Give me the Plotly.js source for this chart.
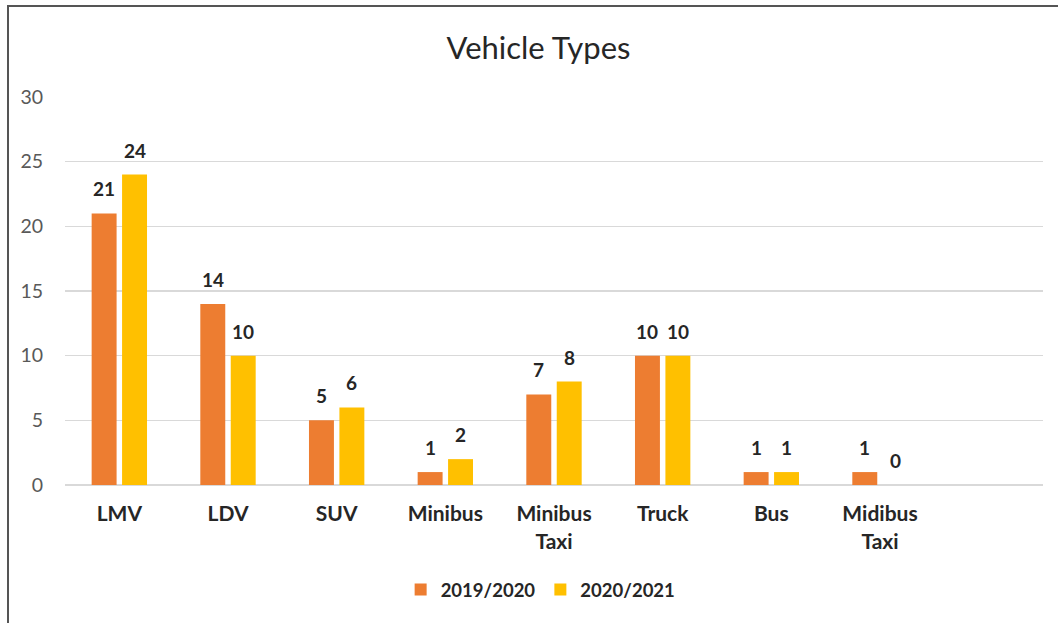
<!DOCTYPE html>
<html>
<head>
<meta charset="utf-8">
<script src="https://cdn.plot.ly/plotly-3.0.1.min.js"></script>
<style>
  html, body { margin: 0; padding: 0; background: #fff; }
  #wrap { position: relative; width: 1058px; height: 623px; }
  #chart { position: absolute; left: 0; top: 0; width: 1058px; height: 623px; }
  #frame { position: absolute; left: 7px; top: 5px; right: -5px; bottom: -5px;
           border-left: 2px solid #555; border-top: 2px solid #555; pointer-events: none; }
</style>
</head>
<body>
<div id="wrap"><div id="chart"></div><div id="frame"></div></div>
<script>
const categories = ["LMV", "LDV", "SUV", "Minibus", "Minibus<br>Taxi", "Truck", "Bus", "Midibus<br>Taxi"];
const series1Name = "2019/2020";
const series1 = [21, 14, 5, 1, 7, 10, 1, 1];
const series2Name = "2020/2021";
const series2 = [24, 10, 6, 2, 8, 10, 1, 0];
const yTicks = [0, 5, 10, 15, 20, 25, 30];

const orange = "#ED7D31";
const yellow = "#FFC000";
const font = "Lato, 'Open Sans', sans-serif";

const traces = [
  { type: "bar", name: series1Name, x: categories, y: series1, marker: { color: orange }, hoverinfo: "y" },
  { type: "bar", name: series2Name, x: categories, y: series2, marker: { color: yellow }, hoverinfo: "y" }
];

const annotations = [];
const groupOffset = 15.3;
[series1, series2].forEach((s, si) => {
  s.forEach((v, i) => {
    annotations.push({
      x: categories[i], y: v, xref: "x", yref: "y",
      text: String(v), showarrow: false,
      xshift: si === 0 ? -groupOffset : groupOffset,
      yanchor: "bottom", yshift: 11,
      font: { family: font, size: 19, color: "#262626", weight: "bold" }
    });
  });
});

const layout = {
  width: 1058, height: 623,
  margin: { l: 65, r: 15, t: 97, b: 138 },
  paper_bgcolor: "#ffffff", plot_bgcolor: "#ffffff",
  barmode: "group", bargap: 0.44, bargroupgap: 0.18,
  title: { text: "Vehicle Types", x: 0.509, xref: "container", xanchor: "center",
           y: 0.923, yref: "container", yanchor: "middle",
           font: { family: font, size: 31, color: "#262626" } },
  xaxis: {
    type: "category", range: [-0.5, 8.5],
    showgrid: false, zeroline: false, showline: false,
    ticks: "outside", ticklen: 10, tickcolor: "rgba(0,0,0,0)",
    tickfont: { family: font, size: 21, color: "#262626", weight: "bold" },
    fixedrange: true
  },
  yaxis: {
    range: [0, 30], tickvals: yTicks, ticktext: yTicks.map(String),
    showgrid: true, gridcolor: "#d9d9d9", gridwidth: 1.5,
    zeroline: true, zerolinecolor: "#d9d9d9", zerolinewidth: 1.5,
    showline: false,
    ticks: "outside", ticklen: 17, tickcolor: "rgba(0,0,0,0)",
    tickfont: { family: font, size: 19.5, color: "#595959" },
    fixedrange: true
  },
  showlegend: true,
  legend: {
    orientation: "h", xref: "container", yref: "container",
    x: 0.511, xanchor: "center", y: 0.053, yanchor: "middle",
    font: { family: font, size: 18.5, color: "#262626", weight: "bold" },
    itemwidth: 30, traceorder: "normal"
  },
  annotations: annotations
};

Plotly.newPlot("chart", traces, layout, { displayModeBar: false, staticPlot: true });
</script>
</body>
</html>
